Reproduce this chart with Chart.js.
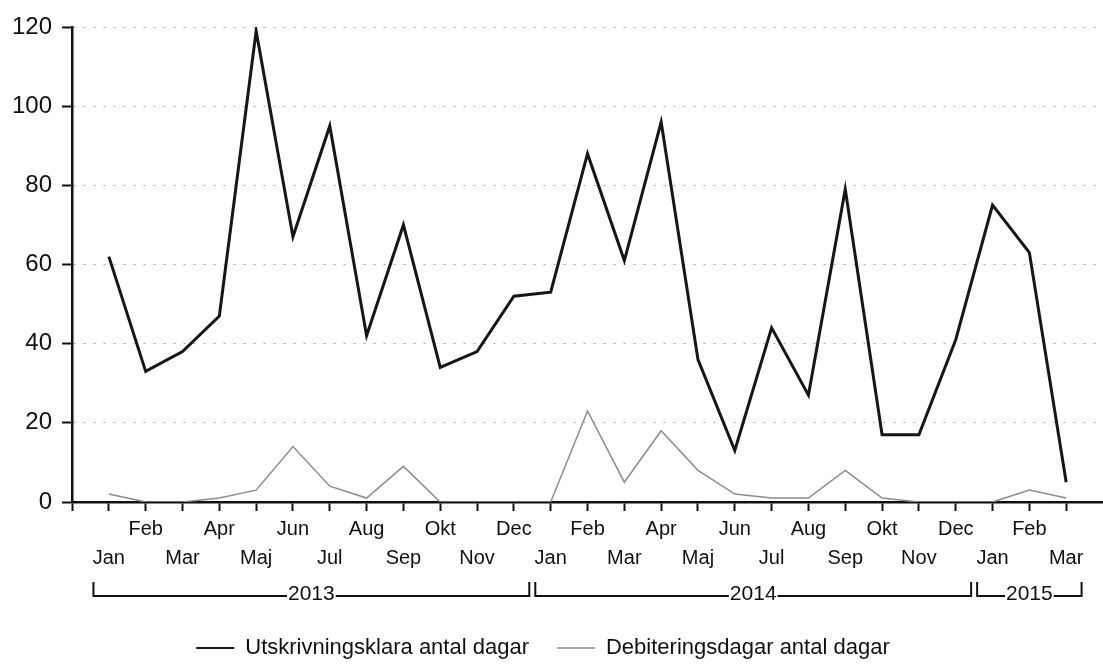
<!DOCTYPE html>
<html><head><meta charset="utf-8">
<script src="https://cdn.jsdelivr.net/npm/chart.js@4.4.1/dist/chart.umd.min.js"></script>
<style>html,body{margin:0;padding:0;background:#fff;}#wrap{width:1103px;height:666px;position:relative;}</style>
</head><body><div id="wrap"><canvas id="c"></canvas></div>
<script>
const months = ['Jan','Feb','Mar','Apr','Maj','Jun','Jul','Aug','Sep','Okt','Nov','Dec','Jan','Feb','Mar','Apr','Maj','Jun','Jul','Aug','Sep','Okt','Nov','Dec','Jan','Feb','Mar'];
const utskrivningsklara = [62,33,38,47,119,67,95,42,70,34,38,52,53,88,61,96,36,13,44,27,79,17,17,41,75,63,5];
const debiteringsdagar = [2,0,0,1,3,14,4,1,9,0,0,0,0,23,5,18,8,2,1,1,8,1,0,0,0,3,1];
const seriesNames = ['Utskrivningsklara antal dagar','Debiteringsdagar antal dagar'];
const years = ['2013','2014','2015'];
const yearStart = [0,12,24];
const yearEnd = [11,23,26];
const yTicks = [0,20,40,60,80,100,120];

const FONT = '"Liberation Sans", Arial, sans-serif';
const INK = '#111111';

const toPts = arr => arr.map((v,i)=>({x:i,y:v}));

const yearBrackets = {
  id:'yearBrackets',
  afterLayout(chart){
    if (chart.legend) { chart.legend.left -= 19; }
  },
  afterDraw(chart){
    const sx = chart.scales.x, ctx = chart.ctx;
    const base = chart.chartArea.bottom;
    const yLine = base + 94, yTop = base + 80;
    ctx.save();
    ctx.strokeStyle = INK; ctx.lineWidth = 2; ctx.fillStyle = INK;
    ctx.font = '21px ' + FONT; ctx.textAlign='center'; ctx.textBaseline='middle';
    years.forEach((yr,i)=>{
      const x0 = sx.getPixelForValue(yearStart[i]-0.5)+3;
      const x1 = sx.getPixelForValue(yearEnd[i]+0.5)-3;
      const cx = (x0+x1)/2, tw = ctx.measureText(yr).width;
      ctx.beginPath();
      ctx.moveTo(x0,yTop); ctx.lineTo(x0,yLine); ctx.lineTo(cx-tw/2-1,yLine);
      ctx.moveTo(cx+tw/2+1,yLine); ctx.lineTo(x1,yLine); ctx.lineTo(x1,yTop);
      ctx.stroke();
      ctx.fillText(yr,cx,yLine-2);
    });
    ctx.restore();
  }
};

new Chart(document.getElementById('c'),{
  type:'line',
  data:{datasets:[
    {label:seriesNames[0],data:toPts(utskrivningsklara),borderColor:'#161616',borderWidth:3,pointRadius:0,pointStyle:'line',pointBorderColor:'#161616',pointBorderWidth:2,tension:0},
    {label:seriesNames[1],data:toPts(debiteringsdagar),borderColor:'#8c8c8c',borderWidth:1.5,pointRadius:0,pointStyle:'line',pointBorderColor:'#8c8c8c',pointBorderWidth:1.5,tension:0}
  ]},
  options:{
    responsive:true,maintainAspectRatio:false,animation:false,devicePixelRatio:1,
    layout:{padding:{top:27,left:2,right:0,bottom:-3}},
    plugins:{
      tooltip:{enabled:false},
      legend:{position:'bottom',labels:{usePointStyle:true,pointStyleWidth:38,padding:28,color:INK,font:{size:22,family:FONT}}}
    },
    scales:{
      x:{type:'linear',min:-1,max:27,
        afterBuildTicks:ax=>{ax.ticks = ax.ticks.filter(t=>t.value>=-1 && t.value<=months.length-1 && Number.isInteger(t.value));},
        afterFit:ax=>{ax.height = 107;},
        grid:{drawOnChartArea:false,drawTicks:true,tickLength:9,tickColor:INK,tickWidth:2},
        border:{display:true,color:INK,width:2.5},
        ticks:{stepSize:1,autoSkip:false,maxRotation:0,minRotation:0,padding:4,color:INK,font:{size:20,family:FONT,lineHeight:1.45},
          callback:v=>{ if(v<0||v>months.length-1) return ''; return v%2===0 ? ['',months[v]] : [months[v]]; }}
      },
      y:{min:0,max:120,
        afterBuildTicks:ax=>{ax.ticks = yTicks.map(v=>({value:v}));},
        grid:{color:c=>(c.tick && c.tick.value===0)?'rgba(0,0,0,0)':'#a8a8a8',lineWidth:1,tickLength:10,tickColor:INK,tickWidth:2},
        border:{display:true,color:INK,width:2.5,dash:[2,8]},
        ticks:{padding:10,color:INK,font:{size:24,family:FONT}}
      }
    }
  },
  plugins:[yearBrackets]
});
</script></body></html>
